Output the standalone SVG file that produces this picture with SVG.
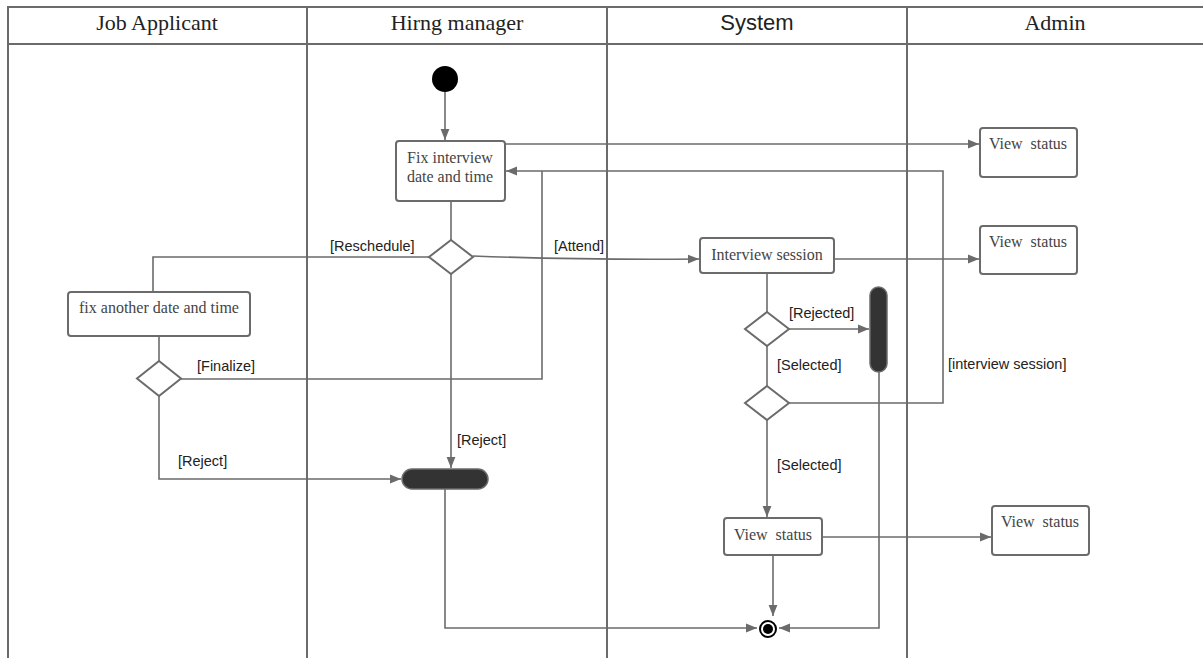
<svg xmlns="http://www.w3.org/2000/svg" width="1203" height="658" viewBox="0 0 1203 658">
<style>
.lane{stroke:#6b6b6b;stroke-width:2;fill:none}
.hdr{font-family:"Liberation Serif",serif;font-size:22px;fill:#222;text-anchor:middle}
.hdrs{font-family:"Liberation Sans",sans-serif;font-size:22px;fill:#222;text-anchor:middle}
.box{fill:#fff;stroke:#6b6b6b;stroke-width:2}
.bt{font-family:"Liberation Serif",serif;font-size:16px;fill:#444;text-anchor:middle}
.dia{fill:#fff;stroke:#6b6b6b;stroke-width:2}
.bar{fill:#333;stroke:#6b6b6b;stroke-width:1.5}
.c{fill:none;stroke:#6b6b6b;stroke-width:1.6}
.lbl{font-family:"Liberation Sans",sans-serif;font-size:14.5px;fill:#222}
</style>
<defs>
<marker id="ah" viewBox="0 0 10 10" refX="10" refY="5" markerWidth="11" markerHeight="11" markerUnits="userSpaceOnUse" orient="auto">
<path d="M0,1 L10,5 L0,9 z" fill="#6b6b6b"/>
</marker>
</defs>
<rect width="1203" height="658" fill="#fff"/>
<g id="lanes">
<line class="lane" x1="7" y1="7" x2="1203" y2="7"/>
<line class="lane" x1="7" y1="44" x2="1203" y2="44"/>
<line class="lane" x1="8" y1="6" x2="8" y2="658"/>
<line class="lane" x1="307" y1="7" x2="307" y2="658"/>
<line class="lane" x1="607" y1="7" x2="607" y2="658"/>
<line class="lane" x1="907" y1="7" x2="907" y2="658"/>
<text class="hdr" x="157" y="30">Job Applicant</text>
<text class="hdr" x="457" y="30">Hirng manager</text>
<text class="hdrs" x="757" y="30">System</text>
<text class="hdr" x="1055" y="30">Admin</text>
</g>
<g id="connectors">
<line class="c" x1="445" y1="92" x2="445" y2="140" marker-end="url(#ah)"/>
<line class="c" x1="451" y1="201" x2="451" y2="240"/>
<line class="c" x1="505" y1="144" x2="979" y2="144" marker-end="url(#ah)"/>
<polyline class="c" points="789,403 943,403 943,171 506,171" marker-end="url(#ah)"/>
<polyline class="c" points="181,379 542,379 542,171"/>
<polyline class="c" points="429,257 153,257 153,292"/>
<path class="c" d="M473,256 Q580,260 699,259" marker-end="url(#ah)"/>
<line class="c" x1="834" y1="259" x2="979" y2="259" marker-end="url(#ah)"/>
<line class="c" x1="767" y1="273" x2="767" y2="312"/>
<line class="c" x1="789" y1="329" x2="869" y2="329" marker-end="url(#ah)"/>
<polyline class="c" points="879,372 879,628 779,628" marker-end="url(#ah)"/>
<line class="c" x1="767" y1="346" x2="767" y2="386"/>
<line class="c" x1="767" y1="420" x2="767" y2="517" marker-end="url(#ah)"/>
<line class="c" x1="822" y1="537" x2="991" y2="537" marker-end="url(#ah)"/>
<line class="c" x1="773" y1="555" x2="773" y2="616" marker-end="url(#ah)"/>
<line class="c" x1="159" y1="336" x2="159" y2="361"/>
<polyline class="c" points="159,396 159,479 401,479" marker-end="url(#ah)"/>
<line class="c" x1="451" y1="273" x2="451" y2="468" marker-end="url(#ah)"/>
<polyline class="c" points="445,489 445,628 757,628" marker-end="url(#ah)"/>
<text class="lbl" x="330" y="251">[Reschedule]</text>
<text class="lbl" x="554" y="251">[Attend]</text>
<text class="lbl" x="789" y="318">[Rejected]</text>
<text class="lbl" x="777" y="370">[Selected]</text>
<text class="lbl" x="777" y="470">[Selected]</text>
<text class="lbl" x="948" y="369">[interview session]</text>
<text class="lbl" x="197" y="371">[Finalize]</text>
<text class="lbl" x="178" y="466">[Reject]</text>
<text class="lbl" x="457" y="445">[Reject]</text>
</g>
<g id="start"><circle cx="445" cy="79" r="13" fill="#000"/></g>
<g id="fix-interview">
<rect class="box" x="396" y="141" width="109" height="60" rx="3"/>
<text class="bt" x="450" y="163">Fix interview</text>
<text class="bt" x="450" y="182">date and time</text>
</g>
<g id="decision-attend"><polygon class="dia" points="451,240 473,257 451,274 429,257"/></g>
<g id="fix-another">
<rect class="box" x="68" y="292" width="182" height="44" rx="3"/>
<text class="bt" x="159" y="313">fix another date and time</text>
</g>
<g id="decision-finalize"><polygon class="dia" points="159,361 181,378.5 159,396 137,378.5"/></g>
<g id="join-bar-h"><rect class="bar" x="402" y="469" width="86" height="20" rx="10"/></g>
<g id="interview-session">
<rect class="box" x="700" y="238" width="134" height="35" rx="3"/>
<text class="bt" x="767" y="260">Interview session</text>
</g>
<g id="decision-rejected"><polygon class="dia" points="767,312 789,329 767,346 745,329"/></g>
<g id="bar-v"><rect class="bar" x="870" y="287" width="17" height="85" rx="8.5"/></g>
<g id="decision-selected"><polygon class="dia" points="767,386 789,403 767,420 745,403"/></g>
<g id="view-status-system">
<rect class="box" x="724" y="518" width="98" height="37" rx="3"/>
<text class="bt" x="773" y="540" xml:space="preserve">View  status</text>
</g>
<g id="end"><circle cx="768" cy="629" r="8" fill="#fff" stroke="#000" stroke-width="2"/><circle cx="768" cy="629" r="5" fill="#000"/></g>
<g id="admin-view-1">
<rect class="box" x="980" y="128" width="97" height="49" rx="3"/>
<text class="bt" x="1028" y="149" xml:space="preserve">View  status</text>
</g>
<g id="admin-view-2">
<rect class="box" x="980" y="226" width="97" height="48" rx="3"/>
<text class="bt" x="1028" y="247" xml:space="preserve">View  status</text>
</g>
<g id="admin-view-3">
<rect class="box" x="992" y="506" width="97" height="49" rx="3"/>
<text class="bt" x="1040" y="527" xml:space="preserve">View  status</text>
</g>
</svg>
